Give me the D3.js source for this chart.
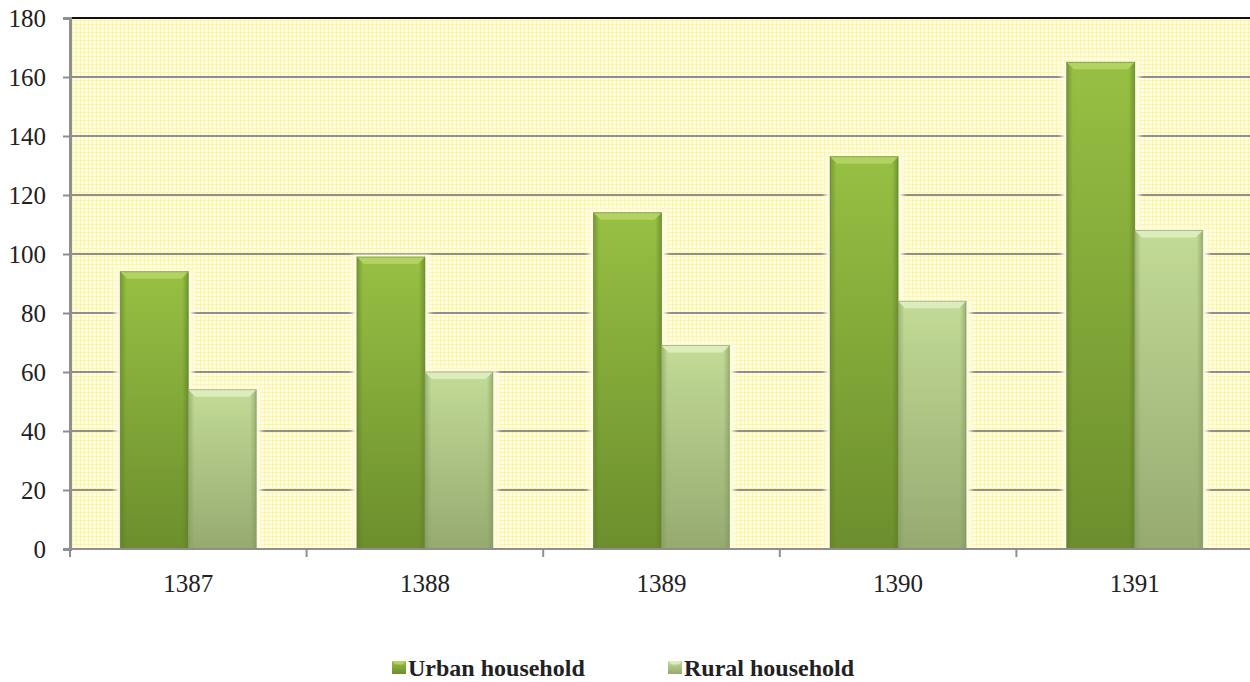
<!DOCTYPE html>
<html>
<head>
<meta charset="utf-8">
<script src="https://cdn.jsdelivr.net/npm/d3@7"></script>
<style>
  body { margin: 0; background: #fff; }
  svg { display: block; }
  text { font-family: 'Liberation Serif', 'Times New Roman', serif; }
</style>
</head>
<body>
<script>
var years = ["1387", "1388", "1389", "1390", "1391"];
var seriesNames = ["Urban household", "Rural household"];
var urban = [94, 99, 114, 133, 165];
var rural = [54, 60, 69, 84, 108];
var yTicks = [0, 20, 40, 60, 80, 100, 120, 140, 160, 180];

var width = 1250, height = 682,
    plotLeft = 70, plotRight = 1253, plotTop = 18, plotBottom = 549;

var svg = d3.select("body").append("svg")
    .attr("width", width)
    .attr("height", height);

var defs = svg.append("defs");

// yellow graph-paper background
var pat = defs.append("pattern")
    .attr("id", "paper")
    .attr("width", 4).attr("height", 4)
    .attr("patternUnits", "userSpaceOnUse");
pat.append("rect").attr("width", 4).attr("height", 4).attr("fill", "#fffde6");
pat.append("rect").attr("width", 4).attr("height", 1).attr("fill", "#fdf5a6");
pat.append("rect").attr("width", 1).attr("height", 4).attr("fill", "#fdf5a6");

var palettes = {
    "Urban household": { top: "#b2d262", hi: "#97c043", lo: "#6c8e2d", edge: "#5a7a24" },
    "Rural household": { top: "#dcecbd", hi: "#c2db96", lo: "#96aa70", edge: "#7f955c" }
};

seriesNames.forEach(function (s, i) {
    var p = palettes[s];
    var g = defs.append("linearGradient").attr("id", "face" + i)
        .attr("x1", 0).attr("y1", 0).attr("x2", 0).attr("y2", 1);
    g.append("stop").attr("offset", "0%").attr("stop-color", p.hi);
    g.append("stop").attr("offset", "100%").attr("stop-color", p.lo);
    var h = defs.append("linearGradient").attr("id", "side" + i)
        .attr("x1", 0).attr("y1", 0).attr("x2", 1).attr("y2", 0);
    h.append("stop").attr("offset", "0%").attr("stop-color", p.edge).attr("stop-opacity", 0.55);
    h.append("stop").attr("offset", "9%").attr("stop-color", p.edge).attr("stop-opacity", 0);
    h.append("stop").attr("offset", "91%").attr("stop-color", p.edge).attr("stop-opacity", 0);
    h.append("stop").attr("offset", "100%").attr("stop-color", p.edge).attr("stop-opacity", 0.6);
});

var glow = defs.append("filter").attr("id", "glow")
    .attr("x", "-30%").attr("y", "-10%").attr("width", "160%").attr("height", "120%");
glow.append("feGaussianBlur").attr("stdDeviation", 2);

var y = d3.scaleLinear().domain([0, 180]).range([plotBottom, plotTop]);
var x = d3.scaleBand().domain(years).range([plotLeft, plotRight]);
var x1 = d3.scaleBand().domain(seriesNames).range([0, x.bandwidth()]).paddingOuter(0.74);

svg.append("rect")
    .attr("x", plotLeft).attr("y", plotTop)
    .attr("width", plotRight - plotLeft).attr("height", plotBottom - plotTop)
    .attr("fill", "url(#paper)");

// gridlines
svg.append("g").selectAll("line")
    .data(yTicks.filter(function (d) { return d > 0 && d < 180; }))
    .join("line")
    .attr("x1", plotLeft).attr("x2", plotRight)
    .attr("y1", function (d) { return y(d); }).attr("y2", function (d) { return y(d); })
    .attr("stroke", "#8f8f8f").attr("stroke-width", 2);

svg.append("line")
    .attr("x1", plotLeft).attr("x2", plotRight)
    .attr("y1", y(180)).attr("y2", y(180))
    .attr("stroke", "#111").attr("stroke-width", 2);

// bars
var rows = years.map(function (yr, i) {
    return { year: yr, values: [urban[i], rural[i]] };
});

var groups = svg.append("g").selectAll("g")
    .data(rows)
    .join("g")
    .attr("transform", function (d) { return "translate(" + x(d.year) + ",0)"; });

var bw = x1.bandwidth(), bev = 7;

// soft halo around each bar
seriesNames.forEach(function (s, i) {
    groups.append("rect")
        .attr("x", x1(s) - 5)
        .attr("y", function (d) { return y(d.values[i]) - 2; })
        .attr("width", bw + 10)
        .attr("height", function (d) { return plotBottom - y(d.values[i]) + 2; })
        .attr("fill", "#fffbe2")
        .attr("filter", "url(#glow)");
});

seriesNames.forEach(function (s, i) {
    var p = palettes[s];
    var bar = groups.append("g")
        .attr("transform", "translate(" + x1(s) + ",0)");

    bar.append("rect")
        .attr("y", function (d) { return y(d.values[i]); })
        .attr("width", bw)
        .attr("height", function (d) { return plotBottom - y(d.values[i]); })
        .attr("fill", "url(#face" + i + ")");
    bar.append("rect")
        .attr("y", function (d) { return y(d.values[i]); })
        .attr("width", bw)
        .attr("height", function (d) { return plotBottom - y(d.values[i]); })
        .attr("fill", "url(#side" + i + ")");
    // top bevel
    bar.append("path")
        .attr("d", function (d) {
            var t = y(d.values[i]);
            return "M0," + t + "L" + bw + "," + t + "L" + (bw - bev) + "," + (t + bev) +
                "L" + bev + "," + (t + bev) + "Z";
        })
        .attr("fill", p.top);
    bar.append("rect")
        .attr("y", function (d) { return y(d.values[i]); })
        .attr("width", bw)
        .attr("height", function (d) { return plotBottom - y(d.values[i]); })
        .attr("fill", "none")
        .attr("stroke", p.edge).attr("stroke-opacity", 0.55).attr("stroke-width", 1);
});

// axes
var yAxis = svg.append("g")
    .attr("transform", "translate(" + plotLeft + ",0)")
    .call(d3.axisLeft(y).tickValues(yTicks).tickSize(7).tickPadding(17).tickFormat(d3.format("d")));
yAxis.attr("font-family", null);
yAxis.select(".domain").attr("stroke", "#8f8f8f").attr("stroke-width", 3);
yAxis.selectAll(".tick line").attr("stroke", "#8f8f8f").attr("stroke-width", 2);
yAxis.selectAll("text")
    .attr("fill", "#222")
    .style("font-size", "25px");

var xAxis = svg.append("g")
    .attr("transform", "translate(0," + plotBottom + ")")
    .call(d3.axisBottom(x).tickSize(0).tickPadding(25));
xAxis.attr("font-family", null);
xAxis.select(".domain").remove();
xAxis.selectAll("text")
    .attr("fill", "#222")
    .style("font-size", "25px");

svg.append("line")
    .attr("x1", plotLeft).attr("x2", plotRight)
    .attr("y1", plotBottom).attr("y2", plotBottom)
    .attr("stroke", "#8f8f8f").attr("stroke-width", 2);

svg.append("g").selectAll("line")
    .data(years)
    .join("line")
    .attr("x1", function (d) { return x(d); }).attr("x2", function (d) { return x(d); })
    .attr("y1", plotBottom).attr("y2", plotBottom + 8)
    .attr("stroke", "#8f8f8f").attr("stroke-width", 2);

// legend
var legendX = [392, 668];
var legend = svg.append("g").selectAll("g")
    .data(seriesNames)
    .join("g")
    .attr("transform", function (d, i) { return "translate(" + legendX[i] + ",661)"; });

legend.append("rect")
    .attr("width", 14).attr("height", 13)
    .attr("fill", function (d, i) { return "url(#face" + i + ")"; });
legend.append("path")
    .attr("d", "M0,0L14,0L10.5,3.5L3.5,3.5Z")
    .attr("fill", function (d) { return palettes[d].top; });
legend.append("text")
    .attr("x", 16).attr("y", 15)
    .attr("fill", "#222")
    .style("font-size", "24px")
    .style("font-weight", "bold")
    .text(function (d) { return d; });
</script>
</body>
</html>
